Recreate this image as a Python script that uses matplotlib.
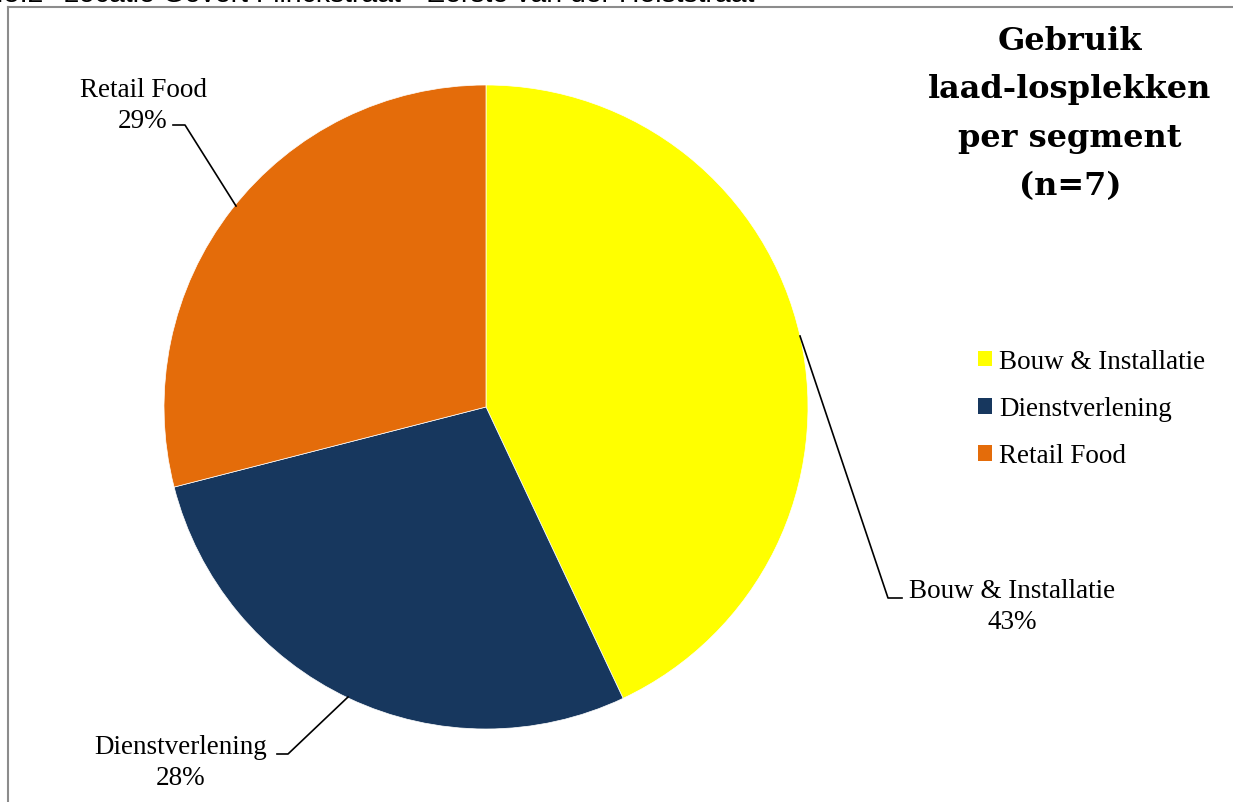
import matplotlib
matplotlib.use("Agg")
import matplotlib.pyplot as plt
from matplotlib.lines import Line2D

# Data
categories = ["Bouw & Installatie", "Dienstverlening", "Retail Food"]
shares = [43, 28, 29]
colors = ["#FFFF00", "#17375E", "#E46C0A"]
title_lines = ["Gebruik", "laad-losplekken", "per segment", "(n=7)"]
header_num = "3.5.2"
header_text = "Locatie Govert Flinckstraat - Eerste van der Helststraat"

W, H = 1233, 803
fig = plt.figure(figsize=(W / 100, H / 100), dpi=100)
fig.patch.set_facecolor("white")

SERIF = ["Liberation Serif", "DejaVu Serif"]
SANS = ["Liberation Sans", "DejaVu Sans"]

# Pie geometry in pixels
cx, cy, r = 486, 408, 322
ax = fig.add_axes([(cx - r) / W, (H - cy - r) / H, 2 * r / W, 2 * r / H])
wedges, _ = ax.pie(shares, colors=colors, startangle=90, counterclock=False,
                   radius=1, wedgeprops=dict(linewidth=0.5, edgecolor="white"))
ax.set_xlim(-1, 1)
ax.set_ylim(-1, 1)
ax.set_aspect("equal")
ax.axis("off")


def d(px, py):
    """pixel position -> pie data coordinates"""
    return ((px - cx) / r, (cy - py) / r)


# Data labels with leader lines
label_specs = [
    # text centre, leader points (pixel coords)
    ((1012, 607), [(800, 337), (888, 599), (902, 599)]),
    ((181, 763), [(348, 698), (288, 755), (277, 755)]),
    ((143, 106), [(236, 207), (185, 126), (173, 126)]),
]
for cat, val, (tpos, pts) in zip(categories, shares, label_specs):
    xs, ys = zip(*[d(*p) for p in pts])
    ax.add_line(Line2D(xs, ys, color="black", lw=1.2, clip_on=False))
    tx, ty = d(*tpos)
    ax.text(tx, ty, f"{cat}\n{val}%", ha="center", va="center",
            fontsize=19.5, family=SERIF, linespacing=1.36, clip_on=False)

# Title
fig.text(1070 / W, 1 - 114 / H, "\n".join(title_lines), ha="center", va="center",
         fontsize=23, fontweight="bold", family=["DejaVu Serif"], linespacing=1.73)

# Legend
leg = fig.legend(wedges, categories, loc="upper left",
                 bbox_to_anchor=(978 / W, 1 - 350 / H), frameon=False,
                 prop=dict(family=SERIF, size=19.5), handlelength=0.52,
                 handleheight=0.52, handletextpad=0.27, labelspacing=0.82,
                 borderpad=0, borderaxespad=0)
for h in leg.legend_handles:
    h.set_edgecolor("none")

# Outer frame of the chart area
fig.add_artist(Line2D([8 / W, 8 / W], [1 - 802 / H, 1 - 7.5 / H],
                      transform=fig.transFigure, color="#8c8c8c", lw=1.5))
fig.add_artist(Line2D([8 / W, 1.0], [1 - 7.5 / H, 1 - 7.5 / H],
                      transform=fig.transFigure, color="#8c8c8c", lw=1.5))

# Section header running across the top edge
fig.text(44 / W, 1 - 2.5 / H, header_num, ha="right", va="baseline",
         fontsize=20.4, family=SANS, color="black")
fig.text(63 / W, 1 - 2.5 / H, header_text, ha="left", va="baseline",
         fontsize=20.4, family=SANS, color="black")

fig.savefig("out.png", dpi=100, facecolor="white")
